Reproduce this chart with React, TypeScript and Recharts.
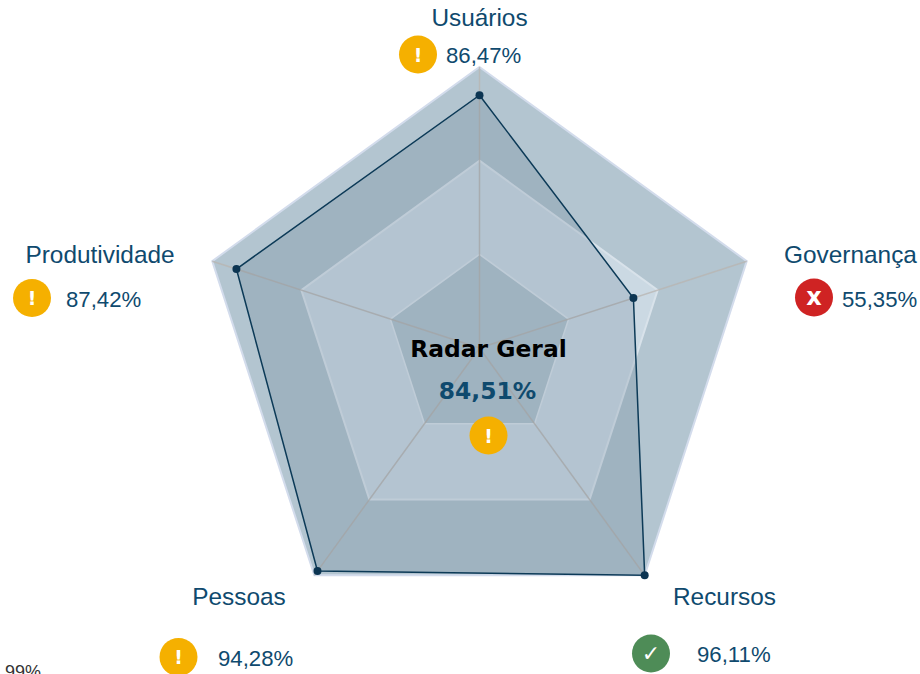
import React from "react";
import { RadarChart, Radar, PolarGrid, PolarAngleAxis, PolarRadiusAxis } from "recharts";

const categories = ["Usuários", "Governança", "Recursos", "Pessoas", "Produtividade"];
const scores = [86.47, 55.35, 96.11, 94.28, 87.42];
const scoreLabels = ["86,47%", "55,35%", "96,11%", "94,28%", "87,42%"];
const statuses = ["warn", "bad", "good", "warn", "warn"];
const bandLow = [32.04, 32.04, 32.04, 32.04, 32.04];
const bandMid = [64.07, 64.07, 64.07, 64.07, 64.07];
const bandHigh = [96.11, 96.11, 96.11, 96.11, 96.11];

const data = categories.map((name, i) => ({
  name,
  score: scores[i],
  low: bandLow[i],
  mid: bandMid[i],
  high: bandHigh[i],
}));

const statusColor: Record<string, string> = { warn: "#f5b000", bad: "#cf2323", good: "#4e8c57" };
const statusGlyph: Record<string, string> = { warn: "!", bad: "x", good: "✓" };
const glyphSize: Record<string, number> = { warn: 19, bad: 24, good: 22 };

// where each label block sits on the page
const labelLayout = [
  { nameX: 479.5, nameY: 26, icon: [418, 54.5], valueX: 446, valueY: 63 },
  { nameX: 850.5, nameY: 263, icon: [814, 297.5], valueX: 842, valueY: 307 },
  { nameX: 724.5, nameY: 605, icon: [651, 653.5], valueX: 697, valueY: 662 },
  { nameX: 239, nameY: 605, icon: [178.5, 657], valueX: 218, valueY: 666 },
  { nameX: 100, nameY: 263, icon: [32, 298], valueX: 66, valueY: 307 },
];

const TEXT_BLUE = "#0f4a6e";
const SANS = "'Liberation Sans', Arial, sans-serif";
const layer: React.CSSProperties = { position: "absolute", left: 0, top: 0 };
const chartProps = {
  width: 920,
  height: 674,
  data,
  cx: 479.5,
  cy: 348,
  outerRadius: 281,
  margin: { top: 0, right: 0, bottom: 0, left: 0 },
};

const StatusIcon = ({ x, y, status }: { x: number; y: number; status: string }) => (
  <g>
    <circle cx={x} cy={y} r={19} fill={statusColor[status]} />
    <text
      x={x}
      y={y + 7}
      textAnchor="middle"
      fontFamily="'DejaVu Sans', sans-serif"
      fontWeight={status === "good" ? "normal" : "bold"}
      fontSize={glyphSize[status]}
      fill="#fff"
    >
      {statusGlyph[status]}
    </text>
  </g>
);

const AxisLabel = (props: any) => {
  const i = props.index as number;
  const l = labelLayout[i];
  return (
    <g>
      <text x={l.nameX} y={l.nameY} textAnchor="middle" fontFamily={SANS} fontSize={24.4} fill={TEXT_BLUE}>
        {categories[i]}
      </text>
      <StatusIcon x={l.icon[0]} y={l.icon[1]} status={statuses[i]} />
      <text x={l.valueX} y={l.valueY} fontFamily={SANS} fontSize={22.2} fill={TEXT_BLUE}>
        {scoreLabels[i]}
      </text>
    </g>
  );
};

export default function App() {
  return (
    <div style={{ ...layer, width: 920, height: 674, overflow: "hidden" }}>
      {/* bands go in their own chart so the spokes can sit on top of them */}
      <div style={layer}>
        <RadarChart {...chartProps}>
          <PolarRadiusAxis domain={[0, 96.11]} tick={false} axisLine={false} />
          <PolarAngleAxis dataKey="name" tick={false} tickLine={false} axisLine={false} />
          <Radar dataKey="high" stroke="#d3dcec" strokeWidth={2} fill="#b3c5d0" fillOpacity={1} dot={false} isAnimationActive={false} />
          <Radar dataKey="mid" stroke="#d8e2ea" strokeWidth={2} fill="#cbd9e3" fillOpacity={1} dot={false} isAnimationActive={false} />
          <Radar dataKey="low" stroke="#d8e2ea" strokeWidth={1.5} fill="#b3c5d0" fillOpacity={1} dot={false} isAnimationActive={false} />
        </RadarChart>
      </div>
      <div style={layer}>
        <RadarChart {...chartProps}>
          <PolarGrid gridType="polygon" stroke="#b8b4b0" strokeWidth={1.5} strokeOpacity={0.75} polarRadius={[0]} />
          <PolarRadiusAxis domain={[0, 96.11]} tick={false} axisLine={false} />
          <PolarAngleAxis dataKey="name" tick={<AxisLabel />} tickLine={false} axisLine={false} />
          <Radar
            dataKey="score"
            stroke="#0c3a57"
            strokeWidth={1.5}
            fill="#0d3552"
            fillOpacity={0.12}
            dot={{ r: 4, fill: "#0c3552", fillOpacity: 1, stroke: "none" }}
            isAnimationActive={false}
          />
        </RadarChart>
      </div>
      <svg width={920} height={674} style={layer}>
        <text x={488.5} y={357} textAnchor="middle" fontFamily="'DejaVu Sans', sans-serif" fontWeight="bold" fontSize={23.4} fill="#000">
          Radar Geral
        </text>
        <text x={487.5} y={399} textAnchor="middle" fontFamily="'DejaVu Sans', sans-serif" fontWeight="bold" fontSize={23.4} fill={TEXT_BLUE}>
          84,51%
        </text>
        <StatusIcon x={488.5} y={435.5} status="warn" />
        <text x={5} y={678} fontFamily={SANS} fontSize={18} fill="#333">
          99%
        </text>
      </svg>
    </div>
  );
}
